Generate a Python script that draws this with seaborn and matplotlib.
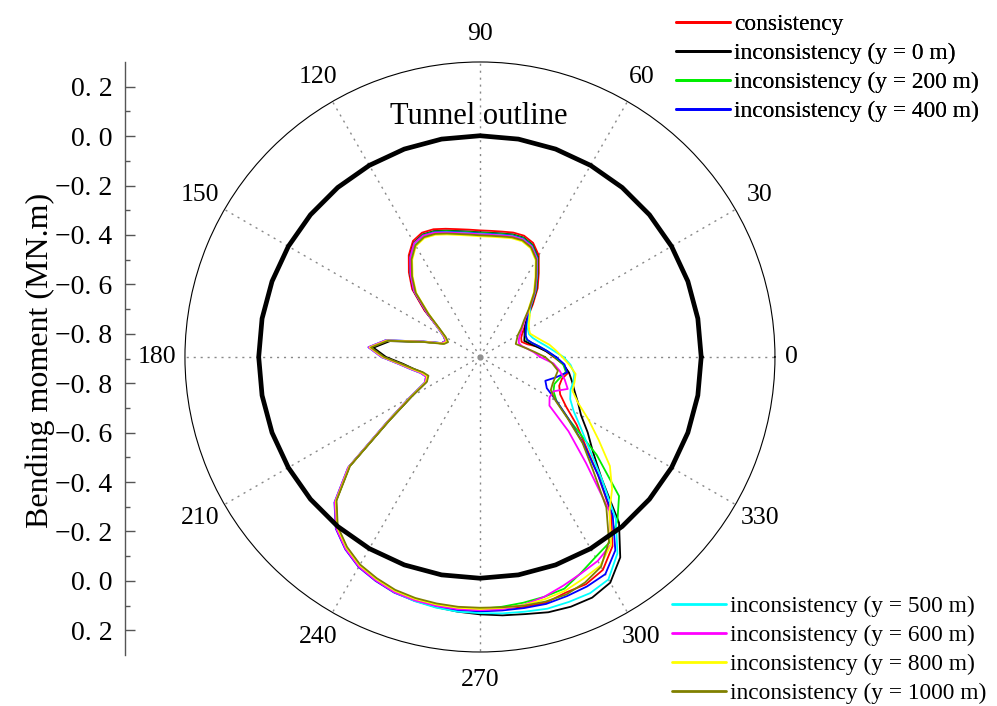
import numpy as np
import pandas as pd
import matplotlib
matplotlib.use("Agg")
import matplotlib.pyplot as plt
import seaborn as sns
from matplotlib.lines import Line2D

sns.set_theme(style="white")
plt.rcParams["font.family"] = ["Liberation Serif", "DejaVu Serif"]
for key in ["text.color", "axes.labelcolor", "xtick.color", "ytick.color"]:
    plt.rcParams[key] = "black"

# Angular positions around the lining (degrees)
angle_deg = list(range(0, 360, 5))

series_labels = [
    "consistency",
    "inconsistency (y = 0 m)",
    "inconsistency (y = 200 m)",
    "inconsistency (y = 400 m)",
    "inconsistency (y = 500 m)",
    "inconsistency (y = 600 m)",
    "inconsistency (y = 800 m)",
    "inconsistency (y = 1000 m)",
]
series_colors = ["#ff0000", "#000000", "#00ee00", "#0000ff",
                 "#00ffff", "#ff00ff", "#ffff00", "#808000"]

# Bending moment (MN.m) at each angle
m_consistency = [
    -0.600, -0.630, -0.660, -0.700, -0.720, -0.715, -0.700, -0.675, -0.645,
    -0.595, -0.535, -0.483, -0.422, -0.388, -0.375, -0.376, -0.382, -0.385, -0.385,
    -0.380, -0.372, -0.360, -0.347, -0.342, -0.355, -0.395, -0.450, -0.510, -0.605,
    -0.695, -0.735, -0.752, -0.740, -0.660, -0.515, -0.450, -0.505, -0.575, -0.620,
    -0.655, -0.672, -0.657, -0.575, -0.445,
    -0.205, -0.070, 0.005, 0.048, 0.080, 0.098, 0.113, 0.120, 0.123, 0.125, 0.125,
    0.127, 0.132, 0.135,
    0.120, 0.120, 0.100, 0.040, -0.070, -0.220, -0.340, -0.420, -0.495, -0.540,
    -0.557, -0.555, -0.535, -0.560,
]
m_y0 = [
    -0.595, -0.630, -0.664, -0.690, -0.708, -0.700, -0.690, -0.675, -0.650,
    -0.603, -0.543, -0.491, -0.430, -0.396, -0.383, -0.384, -0.390, -0.393, -0.393,
    -0.388, -0.380, -0.368, -0.355, -0.350, -0.363, -0.403, -0.458, -0.518, -0.613,
    -0.692, -0.730, -0.745, -0.735, -0.665, -0.528, -0.465, -0.518, -0.585, -0.625,
    -0.657, -0.672, -0.659, -0.580, -0.450,
    -0.207, -0.072, 0.003, 0.046, 0.078, 0.096, 0.113, 0.125, 0.133, 0.140, 0.147,
    0.155, 0.162, 0.175,
    0.181, 0.180, 0.160, 0.095, -0.020, -0.200, -0.300, -0.365, -0.425, -0.460,
    -0.490, -0.512, -0.532, -0.560,
]
m_y200 = [
    -0.595, -0.625, -0.655, -0.680, -0.698, -0.695, -0.685, -0.668, -0.642,
    -0.605, -0.545, -0.493, -0.432, -0.398, -0.385, -0.386, -0.392, -0.395, -0.395,
    -0.390, -0.382, -0.370, -0.357, -0.352, -0.365, -0.405, -0.460, -0.520, -0.615,
    -0.695, -0.735, -0.752, -0.740, -0.660, -0.515, -0.450, -0.505, -0.575, -0.620,
    -0.655, -0.672, -0.657, -0.575, -0.445,
    -0.205, -0.070, 0.005, 0.048, 0.080, 0.098, 0.113, 0.120, 0.123, 0.125, 0.125,
    0.120, 0.115, 0.110,
    0.103, 0.070, 0.040, 0.020, -0.030, -0.100, -0.280, -0.460, -0.540, -0.570,
    -0.578, -0.565, -0.545, -0.560,
]
m_y400 = [
    -0.590, -0.625, -0.655, -0.680, -0.695, -0.695, -0.685, -0.670, -0.645,
    -0.608, -0.548, -0.496, -0.435, -0.401, -0.388, -0.389, -0.395, -0.398, -0.398,
    -0.393, -0.385, -0.373, -0.360, -0.355, -0.368, -0.408, -0.463, -0.523, -0.618,
    -0.690, -0.730, -0.747, -0.735, -0.655, -0.510, -0.445, -0.500, -0.570, -0.615,
    -0.650, -0.667, -0.652, -0.570, -0.440,
    -0.200, -0.063, 0.012, 0.055, 0.087, 0.105, 0.120, 0.127, 0.131, 0.134, 0.135,
    0.135, 0.137, 0.140,
    0.135, 0.130, 0.120, 0.060, -0.060, -0.220, -0.350, -0.460, -0.540, -0.600,
    -0.617, -0.580, -0.540, -0.555,
]
m_y500 = [
    -0.560, -0.600, -0.630, -0.655, -0.672, -0.680, -0.675, -0.660, -0.638,
    -0.610, -0.550, -0.498, -0.437, -0.403, -0.390, -0.391, -0.397, -0.400, -0.400,
    -0.395, -0.387, -0.375, -0.362, -0.357, -0.370, -0.410, -0.465, -0.525, -0.620,
    -0.690, -0.730, -0.747, -0.735, -0.655, -0.510, -0.445, -0.500, -0.570, -0.615,
    -0.650, -0.667, -0.652, -0.570, -0.440,
    -0.202, -0.067, 0.008, 0.051, 0.083, 0.101, 0.118, 0.128, 0.135, 0.140, 0.142,
    0.147, 0.152, 0.160,
    0.160, 0.160, 0.145, 0.075, -0.040, -0.200, -0.320, -0.400, -0.460, -0.495,
    -0.508, -0.507, -0.510, -0.530,
]
m_y600 = [
    -0.655, -0.680, -0.705, -0.725, -0.732, -0.725, -0.710, -0.690, -0.660,
    -0.611, -0.551, -0.499, -0.438, -0.404, -0.391, -0.392, -0.398, -0.401, -0.401,
    -0.396, -0.388, -0.376, -0.362, -0.355, -0.365, -0.405, -0.460, -0.520, -0.615,
    -0.690, -0.730, -0.747, -0.735, -0.655, -0.510, -0.445, -0.500, -0.570, -0.615,
    -0.650, -0.667, -0.652, -0.570, -0.440,
    -0.200, -0.065, 0.010, 0.053, 0.085, 0.103, 0.118, 0.125, 0.128, 0.130, 0.130,
    0.130, 0.124, 0.110,
    0.090, 0.072, 0.058, 0.030, -0.080, -0.290, -0.430, -0.555, -0.573, -0.570,
    -0.520, -0.543, -0.570, -0.600,
]
m_y800 = [
    -0.565, -0.590, -0.613, -0.640, -0.660, -0.675, -0.670, -0.657, -0.635,
    -0.619, -0.559, -0.507, -0.446, -0.412, -0.399, -0.400, -0.406, -0.409, -0.409,
    -0.404, -0.396, -0.384, -0.371, -0.366, -0.379, -0.419, -0.474, -0.534, -0.629,
    -0.695, -0.735, -0.752, -0.740, -0.660, -0.515, -0.450, -0.505, -0.575, -0.620,
    -0.655, -0.672, -0.657, -0.575, -0.445,
    -0.206, -0.071, 0.004, 0.047, 0.079, 0.097, 0.112, 0.119, 0.122, 0.124, 0.125,
    0.125, 0.125, 0.120,
    0.112, 0.095, 0.080, 0.030, -0.080, -0.140, -0.210, -0.310, -0.390, -0.460,
    -0.500, -0.502, -0.505, -0.535,
]
m_y1000 = [
    -0.635, -0.675, -0.705, -0.728, -0.745, -0.735, -0.722, -0.695, -0.665,
    -0.615, -0.555, -0.503, -0.442, -0.408, -0.395, -0.396, -0.402, -0.405, -0.405,
    -0.400, -0.392, -0.380, -0.367, -0.362, -0.375, -0.415, -0.470, -0.530, -0.625,
    -0.700, -0.740, -0.757, -0.745, -0.665, -0.520, -0.455, -0.510, -0.580, -0.625,
    -0.660, -0.677, -0.662, -0.580, -0.450,
    -0.210, -0.075, 0.000, 0.043, 0.075, 0.093, 0.108, 0.115, 0.118, 0.120, 0.120,
    0.122, 0.127, 0.130,
    0.128, 0.112, 0.085, 0.015, -0.100, -0.250, -0.355, -0.465, -0.545, -0.582,
    -0.585, -0.583, -0.578, -0.605,
]
series_values = [m_consistency, m_y0, m_y200, m_y400, m_y500, m_y600, m_y800, m_y1000]

# Tunnel lining drawn at zero moment, 10-degree facets
tunnel_angle_deg = list(range(0, 361, 10))
tunnel_moment = 0.0

radial_min, radial_max = -0.9, 0.3
scale_ticks = [-0.8, -0.6, -0.4, -0.2, 0.0, 0.2]
theta_tick_deg = list(range(0, 360, 30))

# Long table for seaborn, each curve closed back on its first point
frames = []
for label, values in zip(series_labels, series_values):
    th = np.deg2rad(angle_deg + [angle_deg[0] + 360])
    frames.append(pd.DataFrame({"theta": th, "moment": list(values) + [values[0]],
                                "series": label}))
df = pd.concat(frames, ignore_index=True)

fig = plt.figure(figsize=(9.97, 7.06), dpi=100)
ax = fig.add_axes([0.1855, 0.0765, 0.5918, 0.8357], projection="polar")
ax.set_facecolor("white")

sns.lineplot(data=df, x="theta", y="moment", hue="series", hue_order=series_labels,
             palette=series_colors, sort=False, estimator=None, units="series",
             linewidth=1.3, legend=False, ax=ax)

ax.plot(np.deg2rad(tunnel_angle_deg), np.full(len(tunnel_angle_deg), tunnel_moment),
        color="black", linewidth=3.4, solid_joinstyle="miter", zorder=5)
ax.plot([0], [radial_min], marker="o", color="#909090", markersize=3.5, zorder=1)

ax.set_ylim(radial_min, radial_max)
ax.set_yticks([])
ax.set_xlabel("")
ax.set_ylabel("")
ax.set_xticks(np.deg2rad(theta_tick_deg))
ax.set_xticklabels([])
ax.set_xticks(np.deg2rad(np.arange(15, 360, 30)), minor=True)
ax.tick_params(axis="x", which="major", direction="in", length=9, width=0.8,
               color="black")
ax.tick_params(axis="x", which="minor", direction="in", length=5, width=0.8,
               color="black")
ax.grid(False)
ax.xaxis.grid(True, which="major", color="#888888", linestyle=(0, (1.5, 3.5)),
              linewidth=1.0)
ax.spines["polar"].set_color("black")
ax.spines["polar"].set_linewidth(0.8)

# Angle labels set just outside the rim
for deg in theta_tick_deg:
    t = np.deg2rad(deg)
    txt = str(deg)
    d = 16 if len(txt) == 1 else 28
    ax.annotate(txt, xy=(t, radial_max), xytext=(d * np.cos(t), d * np.sin(t)),
                textcoords="offset pixels", ha="center", va="center",
                fontsize=18.5, annotation_clip=False)

# Mirrored linear scale on the left reading the polar radius
lax = fig.add_axes([125 / 997, 51 / 706, 0.0005, 593 / 706])
span = radial_max - radial_min
lax.set_ylim(-span, span)
lax.set_xlim(0, 1)
for side in ["top", "right", "bottom"]:
    lax.spines[side].set_visible(False)
lax.spines["left"].set_color("#555555")
lax.spines["left"].set_linewidth(1.0)
lax.set_xticks([])
pos = [t - radial_min for t in scale_ticks]
major_pos = [-p for p in pos[::-1]] + pos
major_lab = [f"{t:.1f}".replace("-", "\u2212").replace(".", ". ") for t in scale_ticks]
major_lab = major_lab[::-1] + major_lab
lax.set_yticks(major_pos)
lax.set_yticklabels(major_lab, fontsize=20)
minor_pos = [p + 0.1 for p in pos[:-1]]
lax.set_yticks([-p for p in minor_pos] + [0.0] + minor_pos, minor=True)
lax.tick_params(axis="y", which="major", direction="in", length=7.5, width=1.0,
                color="#555555", pad=9, left=True)
lax.tick_params(axis="y", which="minor", direction="in", length=3.8, width=1.0,
                color="#555555", left=True)
lax.set_facecolor("none")

fig.text(40 / 997, 1 - 360 / 706, "Bending moment (MN.m)", rotation=90,
         ha="center", va="center", fontsize=23)
fig.text(479 / 997, 1 - 116 / 706, "Tunnel outline", ha="center", va="center",
         fontsize=22, zorder=10)

handles = [Line2D([], [], color=c, linewidth=2.0) for c in series_colors]
leg_kw = dict(loc="upper left", frameon=False, fontsize=16.8, handlelength=2.3,
              handletextpad=0.2, labelspacing=0.32, borderpad=0, borderaxespad=0)
leg1 = fig.legend(handles[:4], series_labels[:4],
                  bbox_to_anchor=(676 / 997, 1 - 14 / 706), **leg_kw)
leg2 = fig.legend(handles[4:], series_labels[4:],
                  bbox_to_anchor=(672 / 997, 1 - 596 / 706), **leg_kw)
fig.add_artist(leg1)

fig.savefig("out.png", dpi=100, facecolor="white")
